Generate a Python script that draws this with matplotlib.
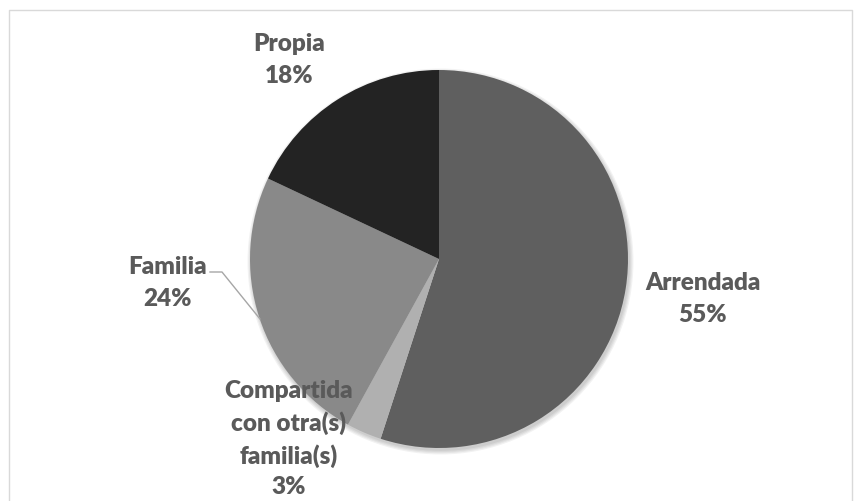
import matplotlib
matplotlib.use("Agg")
import matplotlib.pyplot as plt
from matplotlib.lines import Line2D
from matplotlib.patches import Circle

categories = ["Arrendada", "Compartida\ncon otra(s)\nfamilia(s)", "Familia", "Propia"]
values = [55, 3, 24, 18]
colors = ["#5f5f5f", "#b0b0b0", "#898989", "#232323"]

W, H = 857, 501
fig = plt.figure(figsize=(W / 100, H / 100), dpi=100)
ax = fig.add_axes([0, 0, 1, 1])

cx, cy, r = 439, H - 259, 189

# soft shadow
for i, a in enumerate([0.05, 0.05, 0.05, 0.05]):
    ax.add_patch(Circle((cx + 1.5, cy - 2.5), r + 4 - i * 1.2, color="black",
                        alpha=a, lw=0, zorder=0))

ax.pie(values, colors=colors, startangle=90, counterclock=False,
       center=(cx, cy), radius=r, frame=True,
       wedgeprops=dict(linewidth=0))
ax.set_xlim(0, W)
ax.set_ylim(0, H)
ax.set_aspect("equal")
ax.axis("off")

font = dict(family=["Lato", "DejaVu Sans"], fontsize=17.5, fontweight="heavy",
            color="#5a5a5a", ha="center", va="center", linespacing=1.55)

label_pos = [(703, H - 299), (289, H - 439), (168, H - 283), (289, H - 60)]
for cat, v, (x, y) in zip(categories, values, label_pos):
    kw = dict(font)
    if "\n" in cat:
        kw["linespacing"] = 1.48
    ax.text(x, y, f"{cat}\n{v}%", **kw)

# leader line for Familia
ax.add_line(Line2D([210, 222, 260], [H - 272, H - 272, H - 319],
                   color="#a6a6a6", lw=1.0))

# chart border
ax.add_line(Line2D([9, 9, 852, 852], [0, H - 9.5, H - 9.5, 0],
                   color="#d9d9d9", lw=1.0))

fig.savefig("out.png", dpi=100, facecolor="white")
